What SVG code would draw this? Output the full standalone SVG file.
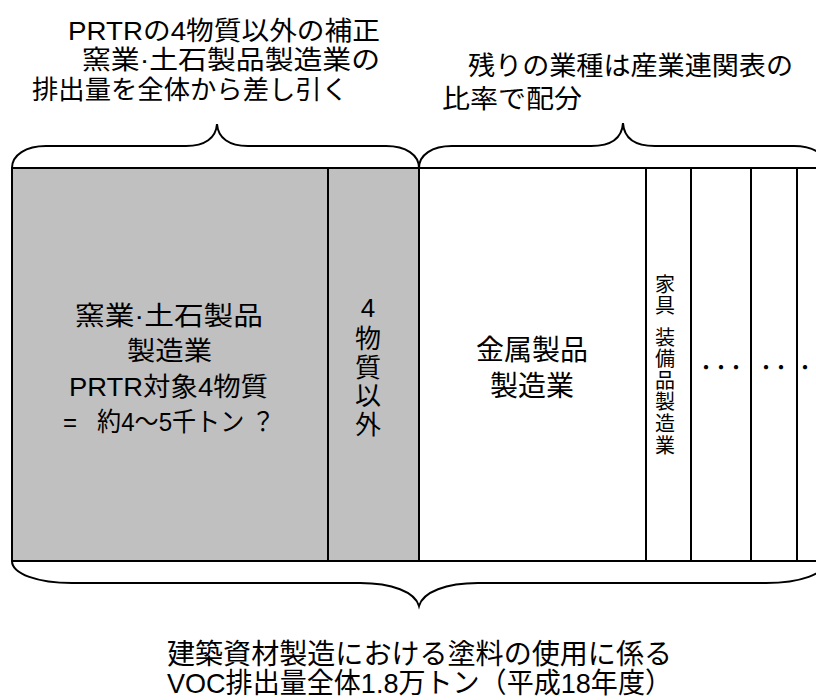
<svg xmlns="http://www.w3.org/2000/svg" width="816" height="700" viewBox="0 0 816 700">
<style>
.t{font-family:"Liberation Sans","Noto Sans CJK JP",sans-serif;fill:#000}
.f26{font-size:26px}
.f28{font-size:28px}
.f20{font-size:20px}
.m{text-anchor:middle}
.ln{stroke:#000;stroke-width:2;fill:none}
</style>
<rect width="816" height="700" fill="#fff"/>
<g id="label-left">
<text class="t f26" x="68" y="40" textLength="312" lengthAdjust="spacingAndGlyphs">PRTRの4物質以外の補正</text>
<text class="t f26" x="82" y="69" textLength="298" lengthAdjust="spacingAndGlyphs">窯業·土石製品製造業の</text>
<text class="t f26" x="32" y="99" textLength="316" lengthAdjust="spacingAndGlyphs">排出量を全体から差し引く</text>
</g>
<g id="label-right">
<text class="t f26" x="468" y="75" textLength="325" lengthAdjust="spacingAndGlyphs">残りの業種は産業連関表の</text>
<text class="t f26" x="442" y="108" textLength="140" lengthAdjust="spacingAndGlyphs">比率で配分</text>
</g>
<g id="col-ceramics">
<rect x="12" y="168" width="316" height="393" fill="#c0c0c0"/>
<text class="t f26" x="75" y="325" textLength="188" lengthAdjust="spacingAndGlyphs">窯業·土石製品</text>
<text class="t f26" x="127" y="360" textLength="85" lengthAdjust="spacingAndGlyphs">製造業</text>
<text class="t f26" x="69" y="396" textLength="199" lengthAdjust="spacingAndGlyphs">PRTR対象4物質</text>
<text class="t f26" x="63" y="431" textLength="212" lengthAdjust="spacingAndGlyphs">=&#160;&#160;&#160;約4～5千トン&#160;？</text>
</g>
<g id="col-other4">
<rect x="328" y="168" width="91" height="393" fill="#c0c0c0"/>
<text class="t f26 m" x="368" y="317">4</text>
<text class="t f26 m" x="368" y="348">物</text>
<text class="t f26 m" x="368" y="377">質</text>
<text class="t f26 m" x="368" y="405">以</text>
<text class="t f26 m" x="368" y="434">外</text>
</g>
<g id="col-metal">
<text class="t f28 m" x="532" y="360">金属製品</text>
<text class="t f28 m" x="532" y="396">製造業</text>
</g>
<g id="col-furniture">
<text class="t f20 m" x="665" y="292">家</text>
<text class="t f20 m" x="665" y="313">具</text>
<text class="t f20 m" x="665" y="345">装</text>
<text class="t f20 m" x="665" y="366">備</text>
<text class="t f20 m" x="665" y="388">品</text>
<text class="t f20 m" x="665" y="409">製</text>
<text class="t f20 m" x="665" y="431">造</text>
<text class="t f20 m" x="665" y="453">業</text>
</g>
<g id="col-etc1">
<text class="t f20 m" x="706 721 736" y="375">・・・</text>
</g>
<g id="col-etc2">
<text class="t f20 m" x="766 781" y="375">・・</text>
</g>
<g id="col-etc3">
<text class="t f20 m" x="805" y="375">・</text>
</g>
<g id="grid" class="ln">
<line x1="11" y1="168" x2="816" y2="168"/>
<line x1="11" y1="561" x2="816" y2="561"/>
<line x1="12" y1="168" x2="12" y2="561"/>
<line x1="328" y1="168" x2="328" y2="561"/>
<line x1="419" y1="168" x2="419" y2="561"/>
<line x1="646" y1="168" x2="646" y2="561"/>
<line x1="691" y1="168" x2="691" y2="561"/>
<line x1="751" y1="168" x2="751" y2="561"/>
<line x1="797" y1="168" x2="797" y2="561"/>
</g>
<g id="connectors" class="ln">
<path d="M12,168 C12,155 26,146 46,146 L186,146 C205,146 216,138 217,124 C218,138 229,146 248,146 L386,146 C406,146 419,155 419,168"/>
<path d="M419,168 C419,155 432,146 452,146 L591,146 C611,146 622,138 623,123 C624,138 635,146 655,146 L794,146 C814,146 827,155 827,168"/>
<path d="M12,561 C12,574 38,583 72,583 L360,583 C392,583 415,592 419,606 C423,592 446,583 478,583 L766,583 C800,583 826,574 826,561"/>
</g>
<g id="label-bottom">
<text class="t f28" x="167" y="664" textLength="505" lengthAdjust="spacingAndGlyphs">建築資材製造における塗料の使用に係る</text>
<text class="t f28" x="167" y="693" textLength="505" lengthAdjust="spacingAndGlyphs">VOC排出量全体1.8万トン（平成18年度）</text>
</g>
</svg>
